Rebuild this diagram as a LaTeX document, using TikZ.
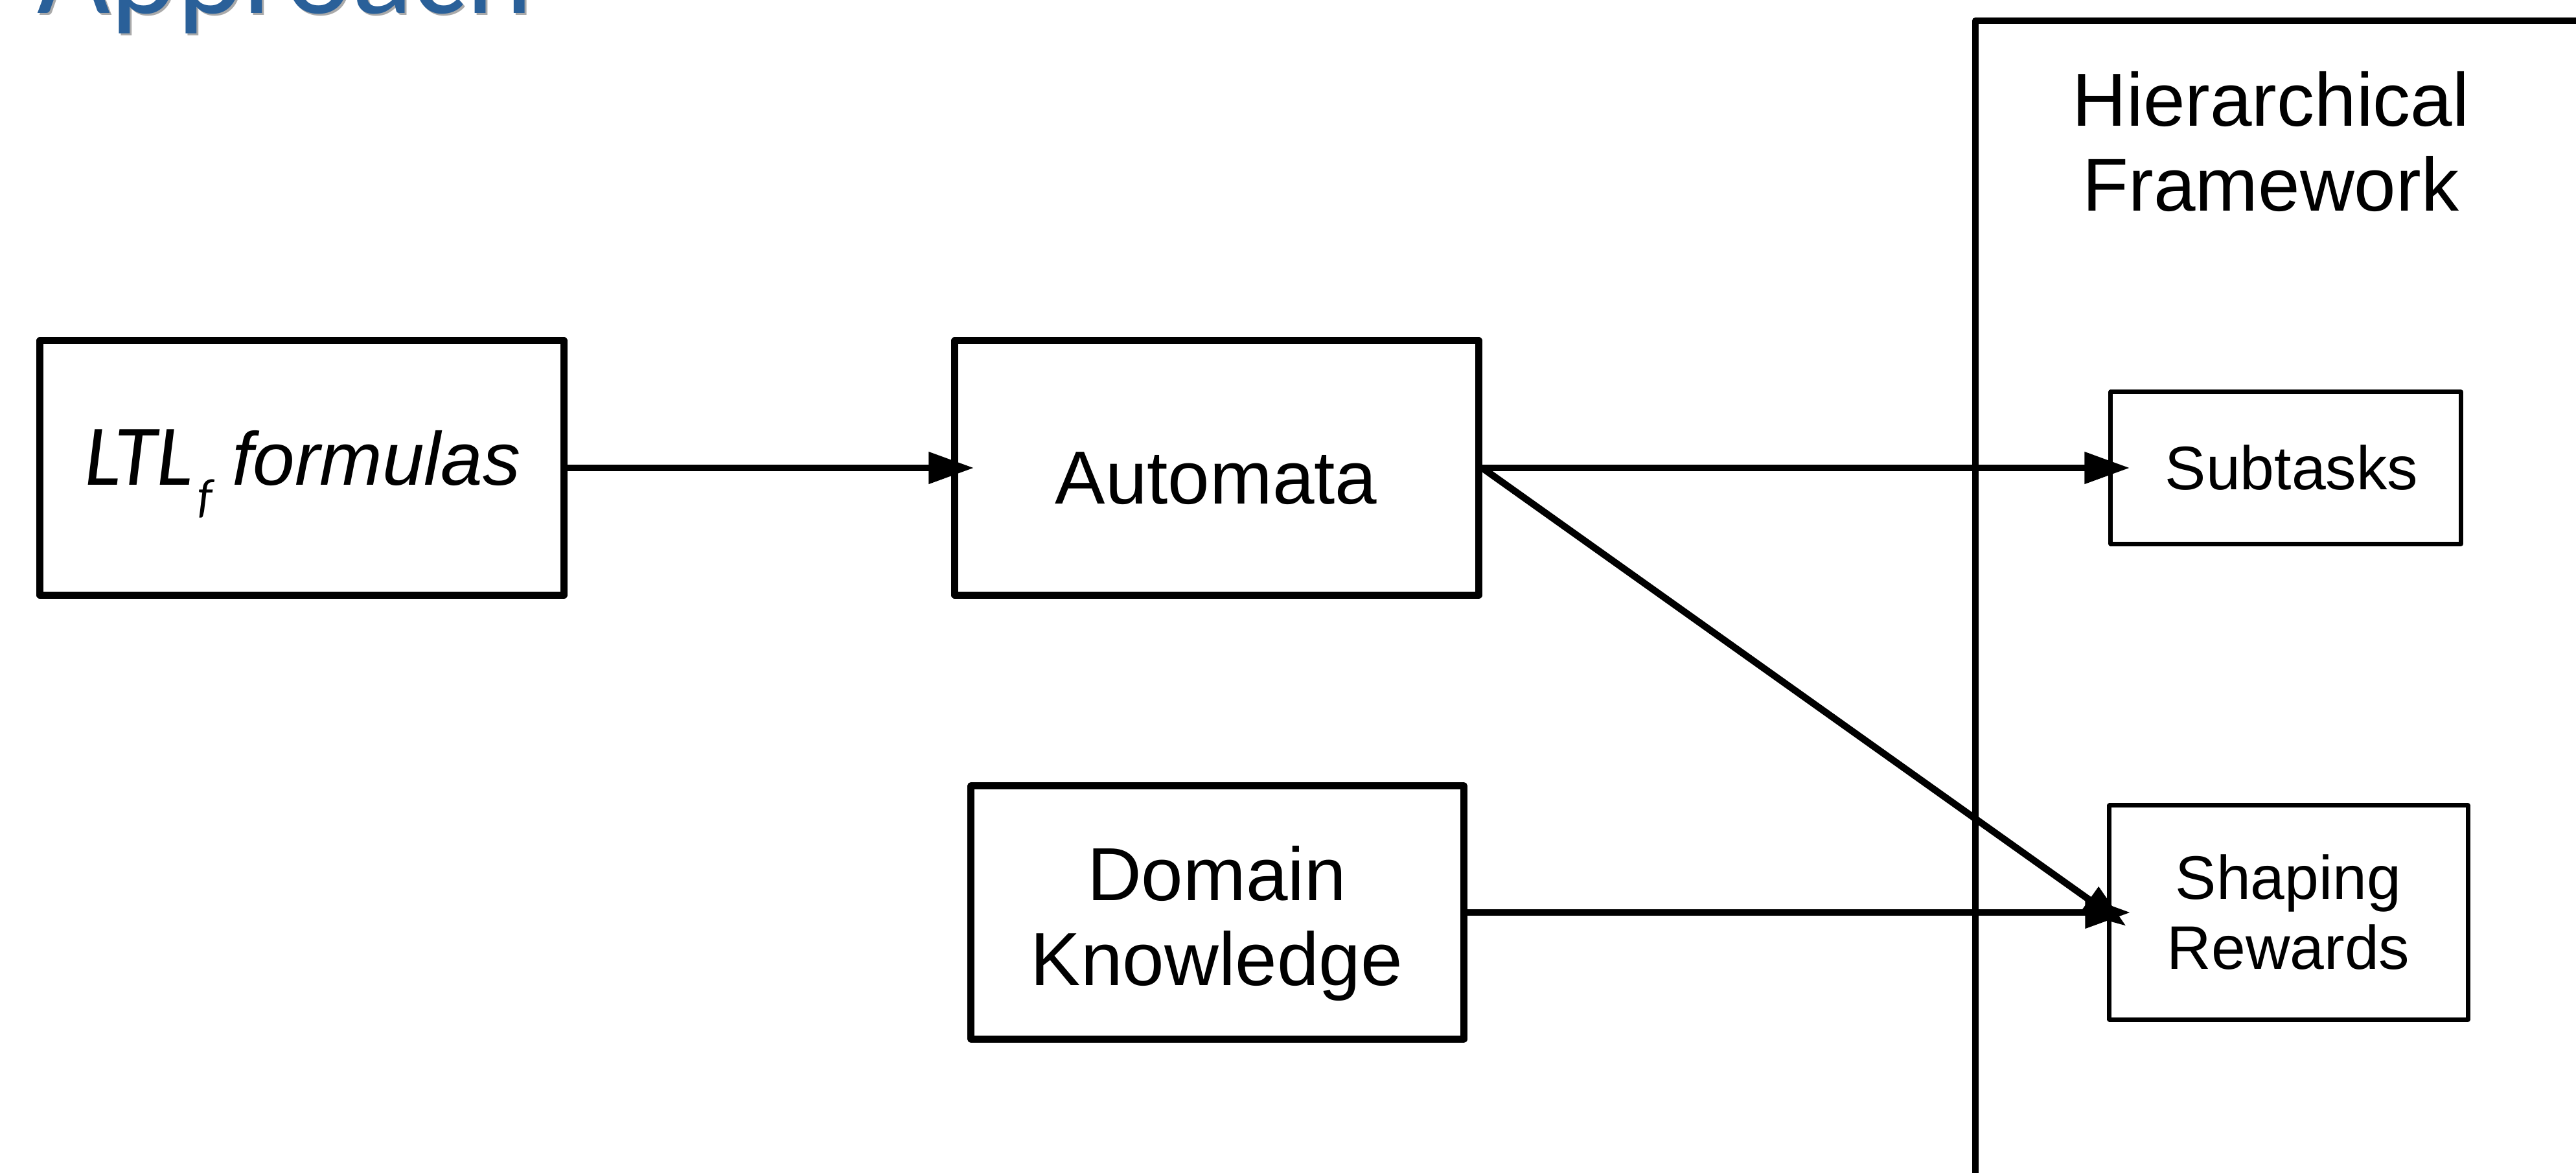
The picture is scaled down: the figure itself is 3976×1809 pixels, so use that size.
\documentclass[tikz,border=0pt]{standalone}
\usepackage{fontspec}
\setmainfont{Liberation Sans}
\newfontfamily\calib{Carlito}
\usetikzlibrary{arrows.meta}
\definecolor{titleblue}{RGB}{42,96,153}
\definecolor{titleshadow}{RGB}{170,170,170}
\begin{document}
\begin{tikzpicture}[x=0.01cm,y=-0.01cm,
  bigbox/.style={draw, line width=3.1pt, line join=round, inner sep=0pt},
  smallbox/.style={draw, line width=2pt, line join=round, inner sep=0pt},
  conn/.style={line width=3pt, -{Triangle[length=0.70cm,width=0.47cm]}},
  bigtext/.style={anchor=base, inner sep=0pt, align=center, font=\fontsize{33pt}{37pt}\selectfont},
  smalltext/.style={anchor=base, inner sep=0pt, align=center, font=\fontsize{27pt}{30.5pt}\selectfont},
  titletext/.style={anchor=base west, inner sep=0pt, font=\calib\fontsize{55.5pt}{62pt}\selectfont}]
\useasboundingbox (0,0) rectangle (3976,1809);
\clip (0,0) rectangle (3976,1809);

% slide title with its drop shadow
\node[titletext, text=titleshadow] (titleshadow) at (60,24) {Approach};
\node[titletext, text=titleblue] (title) at (57,20) {Approach};

% boxes
\node[bigbox, minimum width=8.08cm, minimum height=3.92cm] (ltl) at (466,722) {};
\node[bigbox, minimum width=8.08cm, minimum height=3.92cm] (auto) at (1878,722) {};
\node[bigbox, minimum width=7.60cm, minimum height=3.91cm] (dom) at (1879,1408) {};
\node[smallbox, minimum width=5.40cm, minimum height=2.34cm] (sub) at (3528,722) {};
\node[smallbox, minimum width=5.53cm, minimum height=3.30cm] (shape) at (3532.5,1408) {};

% framework container, open to the right and bottom
\draw[line width=3.1pt, line join=round] (3049,1900) -- (3049,32) -- (4100,32);

% labels (base anchor sits on the last line of a two-line label)
\node[bigtext] (ltltext) at (467,748)
  {{\calib\itshape\fontsize{38pt}{42pt}\selectfont LTL\hspace{0.08cm}\raisebox{-0.42cm}{\fontsize{21pt}{21pt}\selectfont f}}\hspace{0.30cm}\textit{formulas}};
\node[bigtext] (autotext) at (1877,777) {Automata};
\node[bigtext] (domtext) at (1878,1520) {Domain\\Knowledge};
\node[smalltext] (subtext) at (3537,755) {Subtasks};
\node[smalltext] (shapetext) at (3532,1495) {Shaping\\Rewards};
\node[bigtext] (frametext) at (3505,325) {Hierarchical\\Framework};

% connectors
\draw[conn, shorten >=-0.35cm] (ltl.east) -- (auto.west);
\draw[conn, shorten >=-0.33cm] (auto.east) -- (sub.west);
\draw[conn, shorten >=-0.36cm] (auto.east) -- (shape.west);
\draw[conn, shorten >=-0.36cm] (dom.east) -- (shape.west);
\end{tikzpicture}
\end{document}
